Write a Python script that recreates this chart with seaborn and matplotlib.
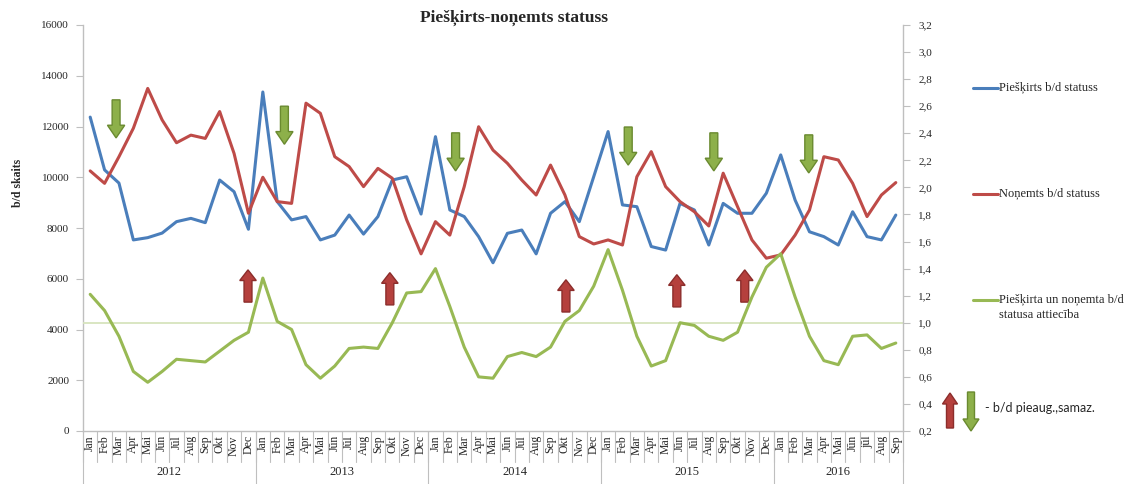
import matplotlib
matplotlib.use("Agg")
import matplotlib.pyplot as plt
import numpy as np
import pandas as pd
import seaborn as sns
from matplotlib.patches import FancyArrow
from matplotlib.lines import Line2D

months = ["Jan", "Feb", "Mar", "Apr", "Mai", "Jūn", "Jūl", "Aug", "Sep", "Okt", "Nov", "Dec"]
month_labels = months * 4 + ["Jan", "Feb", "Mar", "Apr", "Mai", "Jūn", "jūl", "Aug", "Sep"]
years = ["2012", "2013", "2014", "2015", "2016"]

pieskirts = [12370, 10290, 9770, 7530, 7620, 7800, 8250, 8380, 8210, 9890, 9430, 7950,
             13360, 9040, 8320, 8450, 7530, 7720, 8510, 7760, 8450, 9890, 10020, 8550,
             11600, 8710, 8450, 7660, 6630, 7790, 7920, 6980, 8580, 9040, 8250, 10020,
             11800, 8910, 8840, 7270, 7130, 8970, 8710, 7330, 8970, 8580, 8580, 9370,
             10880, 9100, 7850, 7660, 7330, 8640, 7660, 7530, 8510]
nonemts = [10250, 9760, 10810, 11930, 13500, 12260, 11360, 11660, 11530, 12590, 10940, 8580,
           10000, 9040, 8970, 12920, 12520, 10810, 10420, 9630, 10350, 9960, 8320, 6980,
           8250, 7720, 9630, 11990, 11070, 10550, 9890, 9300, 10480, 9300, 7660, 7370,
           7530, 7330, 10020, 11010, 9630, 9040, 8640, 8080, 10160, 8840, 7530, 6810,
           6940, 7720, 8710, 10810, 10680, 9760, 8450, 9300, 9790]
attieciba = [1.21, 1.09, 0.90, 0.64, 0.56, 0.64, 0.73, 0.72, 0.71, 0.79, 0.87, 0.93,
             1.33, 1.01, 0.95, 0.69, 0.59, 0.68, 0.81, 0.82, 0.81, 1.00, 1.22, 1.23,
             1.40, 1.12, 0.82, 0.60, 0.59, 0.75, 0.78, 0.75, 0.82, 1.01, 1.09, 1.27,
             1.54, 1.24, 0.90, 0.68, 0.72, 1.00, 0.98, 0.90, 0.87, 0.93, 1.19, 1.41,
             1.51, 1.19, 0.90, 0.72, 0.69, 0.90, 0.91, 0.81, 0.85]

# arrow markers (x as month index, y as top / bottom in b/d count)
down_arrows = [(1.8, 13050), (13.5, 12800), (25.4, 11750), (37.4, 11980), (43.35, 11750), (49.95, 11670)]
up_arrows = [(10.97, 5080), (20.83, 4970), (33.07, 4690), (40.78, 4890), (45.5, 5080)]

BLUE = "#4a7ebb"
RED = "#be4b48"
GREEN = "#98b954"
GRID = "#bfbfbf"

sns.set_style("white")
plt.rcParams['font.family'] = ['Liberation Serif', 'DejaVu Serif']

df = pd.DataFrame({"idx": np.arange(len(pieskirts)), "pieskirts": pieskirts,
                   "nonemts": nonemts, "attieciba": attieciba})

fig = plt.figure(figsize=(11.31, 4.84), dpi=100)
ax = fig.add_axes([83 / 1131, 53 / 484, 820 / 1131, 406 / 484])
ax2 = ax.twinx()

sns.lineplot(data=df, x="idx", y="pieskirts", ax=ax, color=BLUE, lw=2.2)
sns.lineplot(data=df, x="idx", y="nonemts", ax=ax, color=RED, lw=2.2)
ax2.axhline(1.0, color="#d7e4bd", lw=1.3, zorder=0)
sns.lineplot(data=df, x="idx", y="attieciba", ax=ax2, color=GREEN, lw=2.2)

n = len(pieskirts)
ax.set_xlim(-0.5, n - 0.5)
ax.set_ylim(0, 16000)
ax2.set_ylim(0.2, 3.2)
ax.set_yticks(range(0, 16001, 2000))
ax.set_yticklabels([str(v) for v in range(0, 16001, 2000)], fontsize=8)
r_ticks = np.round(np.arange(0.2, 3.21, 0.2), 1)
ax2.set_yticks(r_ticks)
ax2.set_yticklabels([f"{v:.1f}".replace(".", ",") for v in r_ticks], fontsize=8)

ax.set_xticks(range(n))
ax.set_xticklabels(month_labels, rotation=90, fontsize=8.5, va="top")
ax.tick_params(axis="x", length=0, pad=3)
ax.tick_params(axis="y", direction="out", length=5, color=GRID, pad=5, left=True)
ax2.tick_params(axis="y", direction="out", length=5, color=GRID, pad=6, right=True)
ax.set_xlabel("")
ax2.set_xlabel("")
ax2.set_ylabel("")
ax.set_ylabel("b/d skaits", fontsize=8.5, fontweight="bold")
ax.yaxis.set_label_coords(-0.072, 0.61)

for a in (ax, ax2):
    a.spines["top"].set_visible(False)
    for s in ("left", "right", "bottom"):
        a.spines[s].set_color(GRID)
        a.spines[s].set_linewidth(1.0)
ax2.spines["left"].set_visible(False)
ax2.spines["bottom"].set_visible(False)
ax.spines["right"].set_visible(False)

# category separators (months and years)
tr = ax.get_xaxis_transform()
for b in np.arange(-0.5, n, 1.0):
    ax.plot([b, b], [0, -31 / 406], transform=tr, color=GRID, lw=0.8, clip_on=False)
year_bounds = [-0.5, 11.5, 23.5, 35.5, 47.5, n - 0.5]
for b in year_bounds:
    ax.plot([b, b], [0, -55 / 406], transform=tr, color=GRID, lw=0.8, clip_on=False)
for i, yr in enumerate(years):
    ax.text((year_bounds[i] + year_bounds[i + 1]) / 2, -0.101, yr, transform=tr,
            ha="center", va="center", fontsize=9)

# arrows
for xa, ya in down_arrows:
    ax.add_patch(FancyArrow(xa, ya, 0, -1500, width=0.55, head_width=1.2, head_length=500,
                            length_includes_head=True, fc="#8db04a", ec="#6a8a30", lw=1.0,
                            zorder=5, clip_on=False))
for xa, ya in up_arrows:
    ax.add_patch(FancyArrow(xa, ya, 0, 1270, width=0.55, head_width=1.15, head_length=420,
                            length_includes_head=True, fc="#b5403d", ec="#8c2d2b", lw=1.0,
                            zorder=5, clip_on=False))

fig.text(514 / 1131, 1 - 18 / 484, "Piešķirts-noņemts statuss", ha="center", va="center",
         fontsize=12.5, fontweight="bold")

# legend
W, H = 1131, 484
entries = [(88, BLUE, "Piešķirts b/d statuss"),
           (194, RED, "Noņemts b/d statuss"),
           (300, GREEN, "Piešķirta un noņemta b/d\nstatusa attiecība")]
for yy, c, lab in entries:
    fig.add_artist(Line2D([973 / W, 998 / W], [1 - yy / H] * 2, color=c, lw=2.2,
                          transform=fig.transFigure))
    fig.text(999 / W, 1 - (yy - 6.5) / H, lab, ha="left", va="top", fontsize=9,
             linespacing=1.35)

fig.add_artist(FancyArrow(950 / W, 1 - 428 / H, 0, 35 / H, width=7 / W, head_width=15 / W,
                          head_length=11 / H, length_includes_head=True, fc="#b5403d",
                          ec="#8c2d2b", lw=1.0, transform=fig.transFigure))
fig.add_artist(FancyArrow(971 / W, 1 - 392 / H, 0, -39 / H, width=7 / W, head_width=16 / W,
                          head_length=12 / H, length_includes_head=True, fc="#8db04a",
                          ec="#6a8a30", lw=1.0, transform=fig.transFigure))
fig.text(985 / W, 1 - 408 / H, "- b/d pieaug.,samaz.", ha="left", va="center",
         fontsize=9, family=["Lato", "DejaVu Sans"])

fig.savefig("out.png", dpi=100)
